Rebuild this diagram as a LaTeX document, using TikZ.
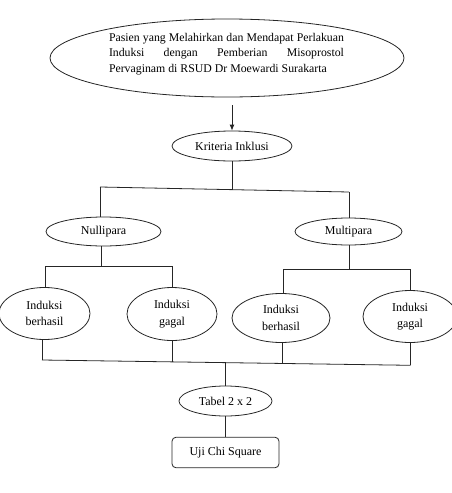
\documentclass[tikz,border=0pt]{standalone}
\usepackage{fontspec}
\setmainfont{Liberation Serif}
\usetikzlibrary{shapes.geometric,arrows.meta}
\begin{document}
\begin{tikzpicture}[x=1pt,y=-1pt,
  oval/.style={draw=black!85, ellipse, inner sep=0pt, line width=0.8pt, align=center,
    font=\fontsize{12}{16.5}\selectfont},
  conn/.style={draw=black!85, line width=0.8pt}]
\useasboundingbox (0,0) rectangle (451,493);
% top ellipse
\node[oval, minimum width=354pt, minimum height=78pt] (P) at (227,58) {};
\node[inner sep=0pt, align=left, font=\fontsize{11.8}{15.7}\selectfont] (PT) at (226.5,54)
  {\makebox[235pt][s]{Pasien yang Melahirkan dan Mendapat Perlakuan}\\
   \makebox[235pt][s]{Induksi dengan Pemberian Misoprostol}\\
   Pervaginam di RSUD Dr Moewardi Surakarta};
\node[oval, minimum width=120pt, minimum height=30pt] (K) at (232,146) {Kriteria Inklusi};
\node[oval, minimum width=115pt, minimum height=29pt] (N) at (103.5,231.5) {Nullipara};
\node[oval, minimum width=107pt, minimum height=27pt] (M) at (348.5,231.5) {Multipara};
% lower ellipses
\node[oval, minimum width=91pt, minimum height=52pt] (A) at (44.5,313.5) {Induksi\\berhasil};
\node[oval, minimum width=90pt, minimum height=53pt] (B) at (172,314) {Induksi\\gagal};
\node[oval, minimum width=98pt, minimum height=49pt] (C) at (281,318) {Induksi\\berhasil};
\node[oval, minimum width=94pt, minimum height=52pt] (D) at (410,316.5) {Induksi\\gagal};
\node[oval, minimum width=93pt, minimum height=30pt] (T) at (225.5,401) {Tabel 2 x 2};
\node[draw=black!85, rounded corners=4pt, line width=0.8pt, minimum width=107pt, minimum height=30.5pt,
  font=\fontsize{12}{16}\selectfont] (U) at (225.5,452.5) {Uji Chi Square};
% connectors
\coordinate (a1) at (232,105);
\draw[conn,-{Latex[length=6pt,width=5pt]}] (a1) -- (K.north);
\coordinate (tbL) at (100,187);
\coordinate (tbR) at (349,192);
\coordinate (tbM) at (232,189.7);
\draw[conn] (K.south) -- (tbM);
\draw[conn] (tbL) -- (tbR);
\draw[conn] (tbL) -- (tbL |- N.north);
\draw[conn] (tbR) -- (tbR |- M.north);
\coordinate (lbL) at (45.5,266);
\coordinate (lbR) at (172,266);
\coordinate (lbM) at (101,266);
\draw[conn] (lbM |- N.south) -- (lbM);
\draw[conn] (lbL) -- (lbR);
\draw[conn] (lbL) -- (lbL |- A.north);
\draw[conn] (lbR) -- (B.north);
\coordinate (rbL) at (283,269);
\coordinate (rbR) at (410,269);
\coordinate (rbM) at (349,269);
\draw[conn] (rbM |- M.south) -- (rbM);
\draw[conn] (rbL) -- (rbR);
\draw[conn] (rbL) -- (rbL |- C.north);
\draw[conn] (rbR) -- (D.north);
\coordinate (bbL) at (42,360);
\coordinate (bbR) at (410.5,365.3);
\coordinate (bbB) at (172,361.9);
\coordinate (bbC) at (282,363.4);
\coordinate (bbM) at (225.5,362.6);
\draw[conn] (bbL |- A.south) -- (bbL);
\draw[conn] (B.south) -- (bbB);
\draw[conn] (bbC |- C.south) -- (bbC);
\draw[conn] (bbR |- D.south) -- (bbR);
\draw[conn] (bbL) -- (bbR);
\draw[conn] (bbM) -- (T.north);
\draw[conn] (T.south) -- (U.north);
\end{tikzpicture}
\end{document}
